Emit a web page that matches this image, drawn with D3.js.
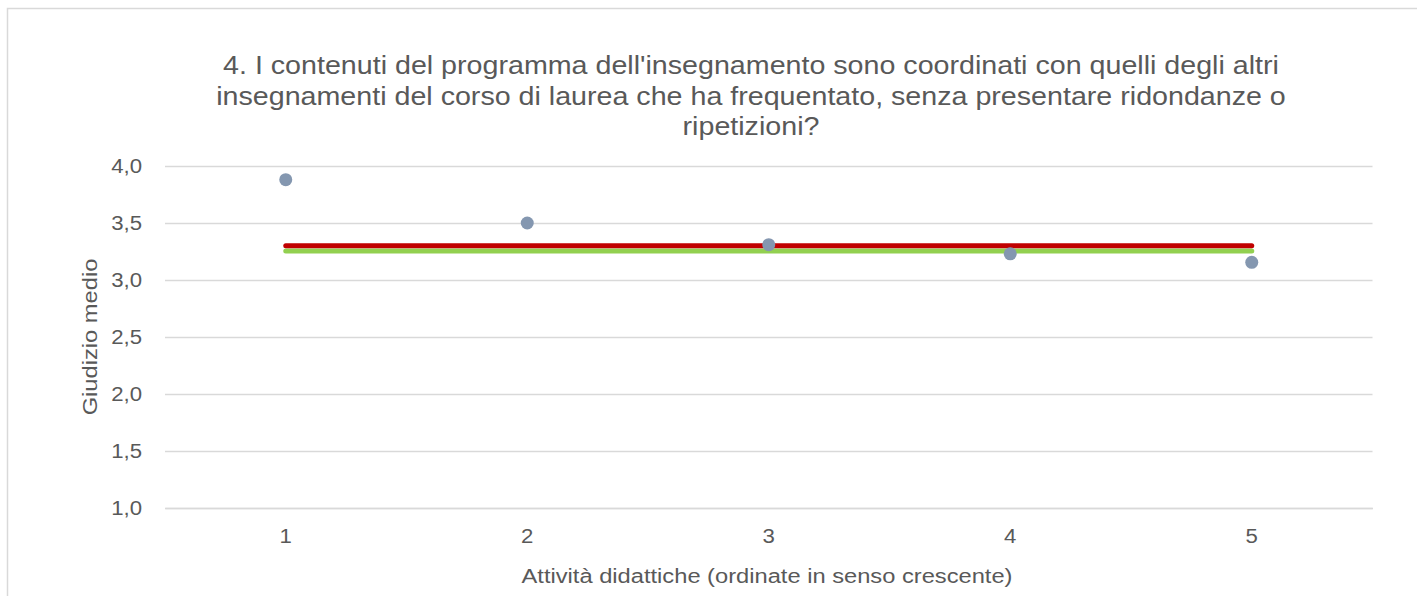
<!DOCTYPE html>
<html>
<head>
<meta charset="utf-8">
<script src="https://cdn.jsdelivr.net/npm/d3@7"></script>
<style>
html,body{margin:0;padding:0;background:#fff;}
svg{display:block;font-family:"Liberation Sans",Arial,sans-serif;}
</style>
</head>
<body>
<svg id="chart" width="1417" height="596"></svg>
<script>
const categories = ["1", "2", "3", "4", "5"];
const values = [3.88, 3.50, 3.31, 3.23, 3.155];
const refRed = 3.30;
const refGreen = 3.255;
const yTicks = [1.0, 1.5, 2.0, 2.5, 3.0, 3.5, 4.0];
const titleLines = [
  "4. I contenuti del programma dell'insegnamento sono coordinati con quelli degli altri",
  "insegnamenti del corso di laurea che ha frequentato, senza presentare ridondanze o",
  "ripetizioni?"
];
const yTitle = "Giudizio medio";
const xTitle = "Attività didattiche (ordinate in senso crescente)";

(function () {
const svg = d3.select("#chart");
const textColor = "#595959";
const sx = 1.15; // horizontal glyph stretch seen in the reference

svg.append("rect").attr("x", 7.5).attr("y", 8.5).attr("width", 1430).attr("height", 620)
  .attr("fill", "#fff").attr("stroke", "#d9d9d9").attr("stroke-width", 1.5);

const pLeft = 165, pRight = 1372.5, pTop = 166, pBottom = 508;
const x = d3.scaleBand().domain(categories).range([pLeft, pRight]);
const y = d3.scaleLinear().domain([1, 4]).range([pBottom, pTop]);

const yAxis = d3.axisLeft(y).tickValues(yTicks).tickSize(-(pRight - pLeft))
  .tickFormat(d => d3.format(".1f")(d).replace(".", ","));
const gy = svg.append("g").attr("transform", `translate(${pLeft},0)`).call(yAxis);
gy.select(".domain").remove();
gy.selectAll(".tick line").attr("stroke", "#d9d9d9").attr("stroke-width", 1.5);
gy.selectAll(".tick text").attr("x", -23 / sx).attr("fill", textColor)
  .attr("transform", `scale(${sx},1)`)
  .style("font-size", "19.3px").attr("dy", "0.35em");

const xAxis = d3.axisBottom(x).tickSize(0);
const gx = svg.append("g").attr("transform", `translate(0,${pBottom})`).call(xAxis);
gx.select(".domain").attr("stroke", "#d9d9d9").attr("stroke-width", 1.5);
gx.selectAll(".tick text").attr("y", 28).attr("dy", "0.35em").attr("fill", textColor)
  .attr("transform", `scale(${sx},1)`)
  .style("font-size", "19.3px");

const x0 = x(categories[0]) + x.bandwidth() / 2;
const x1 = x(categories[categories.length - 1]) + x.bandwidth() / 2;
svg.append("line").attr("x1", x0).attr("x2", x1).attr("y1", y(refGreen)).attr("y2", y(refGreen))
  .attr("stroke", "#92d050").attr("stroke-width", 5).attr("stroke-linecap", "round");
svg.append("line").attr("x1", x0).attr("x2", x1).attr("y1", y(refRed)).attr("y2", y(refRed))
  .attr("stroke", "#c00000").attr("stroke-width", 5).attr("stroke-linecap", "round");

svg.selectAll("circle.pt").data(values).join("circle").attr("class", "pt")
  .attr("cx", (d, i) => x(categories[i]) + x.bandwidth() / 2)
  .attr("cy", d => y(d)).attr("r", 6.5).attr("fill", "#8497b0");

titleLines.forEach((t, i) => {
  svg.append("g").attr("transform", `translate(751,${74 + i * 30.5}) scale(${sx},1)`)
    .append("text").attr("text-anchor", "middle").attr("fill", textColor)
    .style("font-size", "24.9px").text(t);
});

svg.append("g").attr("transform", `translate(97,${(pTop + pBottom) / 2}) rotate(-90) scale(${sx},1)`)
  .append("text").attr("text-anchor", "middle").attr("fill", textColor).style("font-size", "20.6px")
  .text(yTitle);
svg.append("g").attr("transform", `translate(767,583) scale(${sx},1)`)
  .append("text").attr("text-anchor", "middle").attr("fill", textColor).style("font-size", "20.6px")
  .text(xTitle);
})();
</script>
</body>
</html>
